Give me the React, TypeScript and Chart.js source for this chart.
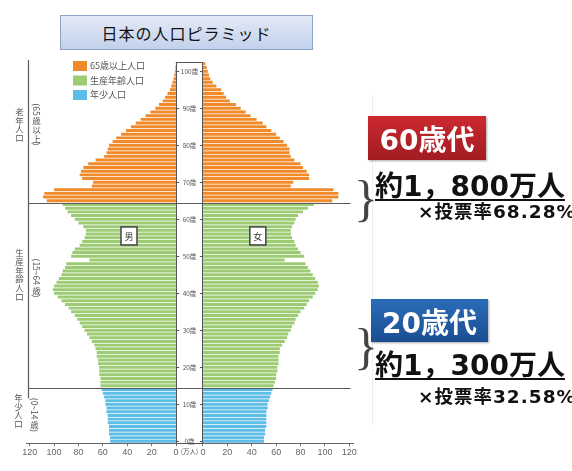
import React, { useEffect, useRef } from "react";
import { Chart, registerables } from "chart.js";

Chart.register(...registerables);

// ages 0..102 (bottom to top)
const AGES: string[] = Array.from({ length: 103 }, (_, i) => String(i));

// 男 (万人)
const MALE: number[] = [
  54, 54, 55, 55, 55, 56, 56, 56, 57, 57,
  58, 58, 59, 60, 61, 62, 62, 62, 63, 63,
  63, 64, 64, 65, 65, 66, 67, 69, 71, 73,
  75, 77, 79, 81, 83, 86, 88, 91, 94, 97,
  100, 101, 100, 98, 96, 94, 93, 91, 90, 71,
  86, 85, 83, 79, 77, 75, 74, 74, 76, 80,
  83, 86, 89, 91, 93, 106, 109, 108, 100, 69,
  68, 77, 79, 78, 76, 72, 66, 59, 57, 56,
  55, 52, 49, 45, 41, 37, 33, 29, 25, 21,
  17, 14, 11, 9, 7, 5, 4, 3, 2, 1.5,
  1, 0.6, 0.3,
];

// 女 (万人)
const FEMALE: number[] = [
  50, 50, 51, 51, 52, 52, 52, 52, 52, 53,
  53, 54, 55, 56, 57, 58, 59, 60, 60, 61,
  61, 62, 62, 62, 63, 63, 65, 67, 69, 70,
  72, 73, 75, 76, 78, 80, 83, 85, 87, 90,
  92, 94, 95, 94, 92, 90, 88, 86, 84, 67,
  83, 80, 78, 76, 75, 73, 72, 72, 73, 75,
  76, 78, 82, 86, 91, 106, 111, 111, 107, 72,
  74, 87, 87, 85, 82, 80, 75, 72, 71, 71,
  69, 66, 63, 60, 56, 52, 49, 44, 39, 35,
  31, 27, 22, 19, 17, 15, 11, 8, 6, 5,
  4, 3, 2,
];

const X_TICKS: number[] = [0, 20, 40, 60, 80, 100, 120];
const AGE_MARKS: number[] = [0, 10, 20, 30, 40, 50, 60, 70, 80, 90, 100];
const GROUP_NAMES: string[] = ["65歳以上人口", "生産年齢人口", "年少人口"];
const GROUP_COLORS: string[] = ["#f08a2b", "#9ccb73", "#5dbde6"];
const GROUP_MIN_AGE: number[] = [65, 15, 0];

const GAP = 11; // half width of the centre column, in 万人 units
const EDGE = 123;

const JP = "'Noto Sans CJK JP', sans-serif";

function colorFor(age: number): string {
  for (let i = 0; i < GROUP_MIN_AGE.length; i++) {
    if (age >= GROUP_MIN_AGE[i]) return GROUP_COLORS[i];
  }
  return GROUP_COLORS[GROUP_COLORS.length - 1];
}

function drawVertical(ctx: CanvasRenderingContext2D, text: string, cx: number, cy: number, size: number) {
  const tokens = text.match(/[\x20-\x7e]+|./gu) || [];
  ctx.font = `${size}px ${JP}`;
  const isAscii = (t: string) => /^[\x20-\x7e]+$/.test(t);
  const lens = tokens.map((t) => (isAscii(t) ? ctx.measureText(t).width + 1 : size * 1.02));
  const total = lens.reduce((a, b) => a + b, 0);
  let y = cy - total / 2;
  tokens.forEach((t, i) => {
    if (isAscii(t)) {
      ctx.save();
      ctx.translate(cx, y);
      ctx.rotate(Math.PI / 2);
      ctx.textAlign = "left";
      ctx.textBaseline = "middle";
      ctx.fillText(t, 0, 0);
      ctx.restore();
    } else {
      ctx.textAlign = "center";
      ctx.textBaseline = "middle";
      ctx.fillText(t, cx, y + lens[i] / 2);
    }
    y += lens[i];
  });
}

const overlayPlugin = {
  id: "pyramidOverlay",
  afterDraw(chart: any) {
    const { ctx, chartArea: ca, scales } = chart;
    const x = scales.x;
    const y = scales.y;
    const yAt = (age: number) => y.getPixelForValue(age);
    const xl = x.getPixelForValue(-GAP);
    const xr = x.getPixelForValue(GAP);
    const xc = (xl + xr) / 2;
    ctx.save();

    // centre column
    ctx.fillStyle = "#ffffff";
    ctx.fillRect(xl, ca.top, xr - xl, ca.bottom - ca.top);
    ctx.strokeStyle = "#555";
    ctx.lineWidth = 1;
    ctx.strokeRect(Math.round(xl) + 0.5, Math.round(ca.top) + 0.5, Math.round(xr - xl) - 1, Math.round(ca.bottom - ca.top));

    ctx.fillStyle = "#555";
    ctx.font = `6.5px ${JP}`;
    ctx.textAlign = "center";
    ctx.textBaseline = "middle";
    AGE_MARKS.forEach((a) => {
      const py = Math.round(yAt(a)) + 0.5;
      ctx.fillText(`${a}歳`, xc, py);
      ctx.beginPath();
      ctx.moveTo(xl, py);
      ctx.lineTo(xl + 3, py);
      ctx.moveTo(xr - 3, py);
      ctx.lineTo(xr, py);
      ctx.stroke();
    });
    ctx.fillText("(万人)", xc, ca.bottom + 8);

    // group boundary lines
    const vx = Math.round(x.getPixelForValue(-(GAP + 121.5))) + 0.5;
    const xEnd = x.getPixelForValue(GAP + 121);
    const y65 = Math.round((yAt(64) + yAt(65)) / 2) + 0.5;
    const y15 = Math.round((yAt(14) + yAt(15)) / 2) + 0.5;
    ctx.strokeStyle = "#5a5a5a";
    ctx.lineWidth = 1.2;
    ctx.beginPath();
    ctx.moveTo(vx, y65);
    ctx.lineTo(xEnd, y65);
    ctx.moveTo(vx, y15);
    ctx.lineTo(xEnd, y15);
    ctx.moveTo(vx, ca.top - 2);
    ctx.lineTo(vx, y15 + 10);
    ctx.stroke();

    // vertical group captions
    ctx.fillStyle = "#555";
    drawVertical(ctx, "老年人口", vx - 9, yAt(85.5), 8.5);
    drawVertical(ctx, "(65歳以上)", vx + 8, yAt(85.5), 8.5);
    drawVertical(ctx, "生産年齢人口", vx - 9, yAt(45), 8.5);
    drawVertical(ctx, "(15~64歳)", vx + 8, yAt(44), 8.5);
    drawVertical(ctx, "年少人口", vx - 10, yAt(8.3), 8.5);
    drawVertical(ctx, "(0~14歳)", vx + 6, yAt(7), 8.5);

    // legend
    ctx.font = `9px ${JP}`;
    ctx.textAlign = "left";
    ctx.textBaseline = "middle";
    GROUP_NAMES.forEach((name, i) => {
      const top = 61 + i * 14.5;
      ctx.fillStyle = GROUP_COLORS[i];
      ctx.fillRect(73, top, 14, 10);
      ctx.fillStyle = "#555";
      ctx.fillText(name, 90, top + 5);
    });

    // 男 / 女 tags
    const tags: [string, number][] = [
      ["男", x.getPixelForValue(-(GAP + 38.6))],
      ["女", x.getPixelForValue(GAP + 45)],
    ];
    const ty = yAt(55.5);
    tags.forEach(([t, px]) => {
      ctx.fillStyle = "#fff";
      ctx.fillRect(px - 8, ty - 9, 16, 18);
      ctx.strokeStyle = "#444";
      ctx.lineWidth = 1.5;
      ctx.strokeRect(px - 8, ty - 9, 16, 18);
      ctx.fillStyle = "#333";
      ctx.font = `9px ${JP}`;
      ctx.textAlign = "center";
      ctx.textBaseline = "middle";
      ctx.fillText(t, px, ty + 0.5);
    });

    ctx.restore();
  },
};

function Pyramid() {
  const ref = useRef<HTMLCanvasElement | null>(null);
  useEffect(() => {
    if (!ref.current) return;
    const colors = AGES.map((_, i) => colorFor(i));
    const chart = new Chart(ref.current, {
      type: "bar",
      data: {
        labels: AGES,
        datasets: [
          {
            label: "男",
            data: MALE.map((v) => [-GAP - v, -GAP]) as any,
            backgroundColor: colors,
            barPercentage: 0.8,
            categoryPercentage: 1,
            grouped: false,
          } as any,
          {
            label: "女",
            data: FEMALE.map((v) => [GAP, GAP + v]) as any,
            backgroundColor: colors,
            barPercentage: 0.8,
            categoryPercentage: 1,
            grouped: false,
          } as any,
        ],
      },
      options: {
        indexAxis: "y",
        responsive: false,
        animation: false,
        layout: { padding: { left: 26, right: 219, top: 62, bottom: 12 } },
        plugins: { legend: { display: false }, tooltip: { enabled: false } },
        scales: {
          y: {
            type: "category",
            reverse: true,
            display: false,
            offset: true,
          },
          x: {
            type: "linear",
            min: -(GAP + EDGE),
            max: GAP + EDGE,
            afterBuildTicks: (s: any) => {
              const left = X_TICKS.map((t) => -(GAP + t)).reverse();
              const right = X_TICKS.map((t) => GAP + t);
              s.ticks = [...left, ...right].map((v) => ({ value: v }));
            },
            ticks: {
              autoSkip: false,
              maxRotation: 0,
              padding: 1,
              color: "#666",
              font: { size: 9, family: "'Liberation Sans', sans-serif" },
              callback: (v: any) => String(Math.round(Math.abs(Number(v)) - GAP)),
            },
            grid: { drawOnChartArea: false, drawTicks: true, tickLength: 3, color: "#777" },
            border: { display: true, color: "#666", width: 1 },
          },
        },
      },
      plugins: [overlayPlugin],
    });
    return () => chart.destroy();
  }, []);
  return (
    <canvas
      ref={ref}
      width={572}
      height={471}
      style={{ position: "absolute", left: 0, top: 0, width: 572, height: 471 }}
    />
  );
}

const NUM = "'DejaVu Sans', 'Noto Sans CJK JP', sans-serif";

const braceStyle = (top: number): React.CSSProperties => ({
  position: "absolute",
  left: 354,
  top,
  fontSize: 50,
  lineHeight: "52px",
  fontFamily: "'Liberation Serif', serif",
  color: "#444",
});

const bigStyle = (top: number): React.CSSProperties => ({
  position: "absolute",
  left: 375,
  top,
  fontSize: 28,
  lineHeight: "34px",
  fontWeight: 700,
  color: "#111",
  whiteSpace: "nowrap",
  textDecoration: "underline",
  textDecorationThickness: 2,
  textUnderlineOffset: 3,
  fontFamily: NUM,
});

const rateStyle = (top: number): React.CSSProperties => ({
  position: "absolute",
  left: 418,
  top,
  fontSize: 18.5,
  lineHeight: "22px",
  fontWeight: 700,
  letterSpacing: 1,
  color: "#111",
  whiteSpace: "nowrap",
  fontFamily: NUM,
});

const tagStyle = (left: number, top: number, w: number, h: number, bg: string): React.CSSProperties => ({
  position: "absolute",
  left,
  top,
  width: w,
  height: h,
  background: bg,
  boxShadow: "1px 1px 2px rgba(0,0,0,0.35)",
  color: "#fff",
  fontFamily: NUM,
  fontWeight: 700,
  fontSize: 28,
  display: "flex",
  alignItems: "center",
  justifyContent: "center",
});

export default function App() {
  return (
    <div
      style={{
        position: "absolute",
        left: 0,
        top: 0,
        width: 572,
        height: 471,
        overflow: "hidden",
        background: "#ffffff",
        fontFamily: JP,
      }}
    >
      <div style={{ position: "absolute", left: 372, top: 95, width: 1, height: 330, background: "#ededed" }} />
      <Pyramid />
      <div
        style={{
          position: "absolute",
          left: 60,
          top: 15,
          width: 253,
          height: 35,
          boxSizing: "border-box",
          border: "1px solid #8ea2c6",
          background: "linear-gradient(180deg, #e4eaf6 0%, #c2d1ec 100%)",
          display: "flex",
          alignItems: "center",
          justifyContent: "center",
          fontSize: 16,
          color: "#111",
          letterSpacing: 1,
        }}
      >
        日本の人口ピラミッド
      </div>

      <div style={tagStyle(368, 116, 118, 44, "linear-gradient(180deg, #cc2a30 0%, #a11c21 100%)")}>60歳代</div>
      <div style={braceStyle(172)}>{"}"}</div>
      <div style={bigStyle(170)}>約1，800万人</div>
      <div style={rateStyle(201)}>×投票率68.28%</div>

      <div style={tagStyle(371, 299, 117, 43, "linear-gradient(180deg, #2a6cb8 0%, #1b4e92 100%)")}>20歳代</div>
      <div style={braceStyle(320)}>{"}"}</div>
      <div style={bigStyle(349)}>約1，300万人</div>
      <div style={rateStyle(386)}>×投票率32.58%</div>
    </div>
  );
}
